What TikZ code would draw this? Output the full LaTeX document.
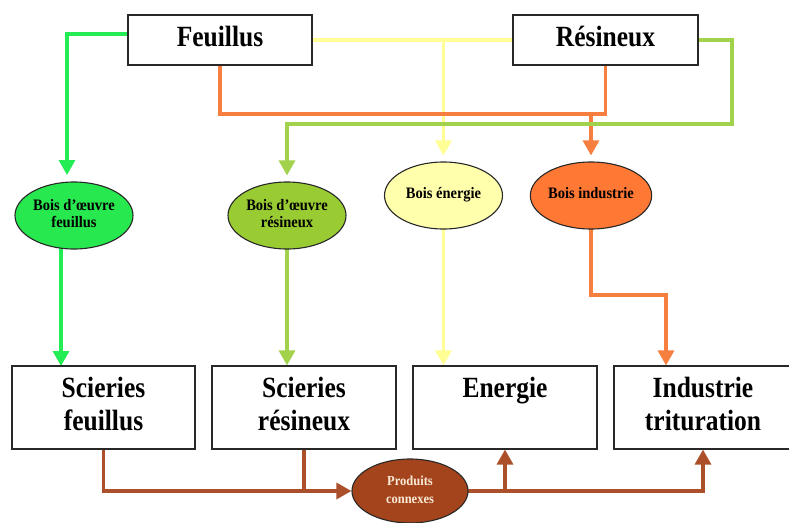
\documentclass[tikz,border=0pt]{standalone}
\usepackage{fontspec}
\setmainfont{Liberation Serif}
\usetikzlibrary{arrows.meta,shapes.geometric,backgrounds}
\definecolor{cgreen}{RGB}{40,232,80}
\definecolor{cgreenl}{RGB}{35,236,85}
\definecolor{cyg}{RGB}{153,204,51}
\definecolor{cygl}{RGB}{162,210,75}
\definecolor{cyel}{RGB}{255,255,172}
\definecolor{cyell}{RGB}{255,255,150}
\definecolor{corg}{RGB}{255,120,52}
\definecolor{corgl}{RGB}{246,126,62}
\definecolor{cbrn}{RGB}{164,68,28}
\definecolor{cbrnl}{RGB}{172,80,44}
\definecolor{cedge}{RGB}{40,40,40}
\newcommand{\bigtxt}[1]{\scalebox{1}[1.15]{\fontsize{25.5}{28}\selectfont\bfseries\begin{tabular}{@{}c@{}}#1\end{tabular}}}
\newcommand{\smtxt}[1]{\scalebox{1}[1.1]{\fontsize{14.5}{15.5}\selectfont\bfseries\begin{tabular}{@{}c@{}}#1\end{tabular}}}
\begin{document}
\begin{tikzpicture}[x=1pt,y=-1pt,
  box/.style={draw=cedge,line width=1.1pt,fill=white,rectangle,inner sep=0pt},
  oval/.style={draw=cedge,line width=1.1pt,ellipse,minimum width=118pt,minimum height=67pt,inner sep=0pt},
  tip/.style={-{Triangle[length=15pt,width=16pt]}},
  conn/.style={line width=3.2pt},
  ]
\useasboundingbox (0,0) rectangle (789,522);
% top boxes
\node[box,minimum width=184pt,minimum height=50pt] (F) at (220,40) {\bigtxt{Feuillus}};
\node[box,minimum width=185pt,minimum height=50pt] (R) at (605.5,40) {\bigtxt{Résineux}};
% ellipses
\node[oval,fill=cgreen] (e1) at (74,215.5) {\smtxt{Bois d’œuvre\\feuillus}};
\node[oval,fill=cyg] (e2) at (287,215.5) {\smtxt{Bois d’œuvre\\résineux}};
\node[oval,fill=cyel] (e3) at (443.5,195.5) {\smtxt{Bois énergie}};
\node[oval,fill=corg] (e4) at (591,195.5) {\smtxt{Bois industrie}};
% bottom boxes
\node[box,minimum width=183pt,minimum height=83pt] (S1) at (103.5,407.5) {\bigtxt{Scieries\\feuillus}};
\node[box,minimum width=184pt,minimum height=83pt] (S2) at (304,407.5) {\bigtxt{Scieries\\résineux}};
\node[box,minimum width=184pt,minimum height=83pt] (S3) at (505,407.5) {\bigtxt{Energie\\\mbox{}}};
\node[box,minimum width=178pt,minimum height=83pt] (S4) at (703,407.5) {\bigtxt{Industrie\\trituration}};
% produits connexes
\node[oval,fill=cbrn,minimum width=116pt,minimum height=64pt] (P) at (410,491) {\raisebox{4pt}{\color[RGB]{250,235,215}\scalebox{1}[1.1]{\fontsize{12.5}{16}\selectfont\bfseries\begin{tabular}{@{}c@{}}Produits\\connexes\end{tabular}}}};
% coordinates
\coordinate (g1) at (67,175);
\coordinate (g1b) at (61,366);
\coordinate (yb) at (443.5,40);
\coordinate (ob) at (591,114);
\coordinate (ob2) at (666,295);
\coordinate (g2) at (732,124);
\begin{scope}[on background layer]
\fill[white] (0,0) rectangle (789,522);
% green feuillus
\draw[conn,cgreenl,tip] ([yshift=6pt]F.west) -| (g1);
\draw[conn,cgreenl,tip] (e1.center -| g1b) -- (g1b);
% yellow
\draw[conn,cyell] (F.east) -- (R.west);
\draw[conn,cyell,tip,shorten >=6pt] (yb) -- (e3.north);
\draw[conn,cyell,tip] (e3.center) -- (e3.center |- S3.north);
% orange
\draw[conn,corgl] (F.south) -- (F.south |- ob) -- (R.south |- ob) -- (R.south);
\draw[conn,corgl,tip,shorten >=6pt] (ob) -- (e4.north);
\draw[conn,corgl,tip] (e4.center) |- (ob2) -- (ob2 |- S4.north);
% yellow-green resineux
\draw[conn,cygl,tip,shorten >=6pt] (R.east) -| (g2) -| (e2.north);
\draw[conn,cygl,tip] (e2.center) -- (e2.center |- S2.north);
% brown
\draw[conn,cbrnl,tip] (S1.south) |- (P.west);
\draw[conn,cbrnl] (S2.south) -- (S2.south |- P.west);
\draw[conn,cbrnl,tip] (P.center) -| (S4.south);
\draw[conn,cbrnl,tip] (P.center -| S3.south) -- (S3.south);
\end{scope}
\end{tikzpicture}
\end{document}
